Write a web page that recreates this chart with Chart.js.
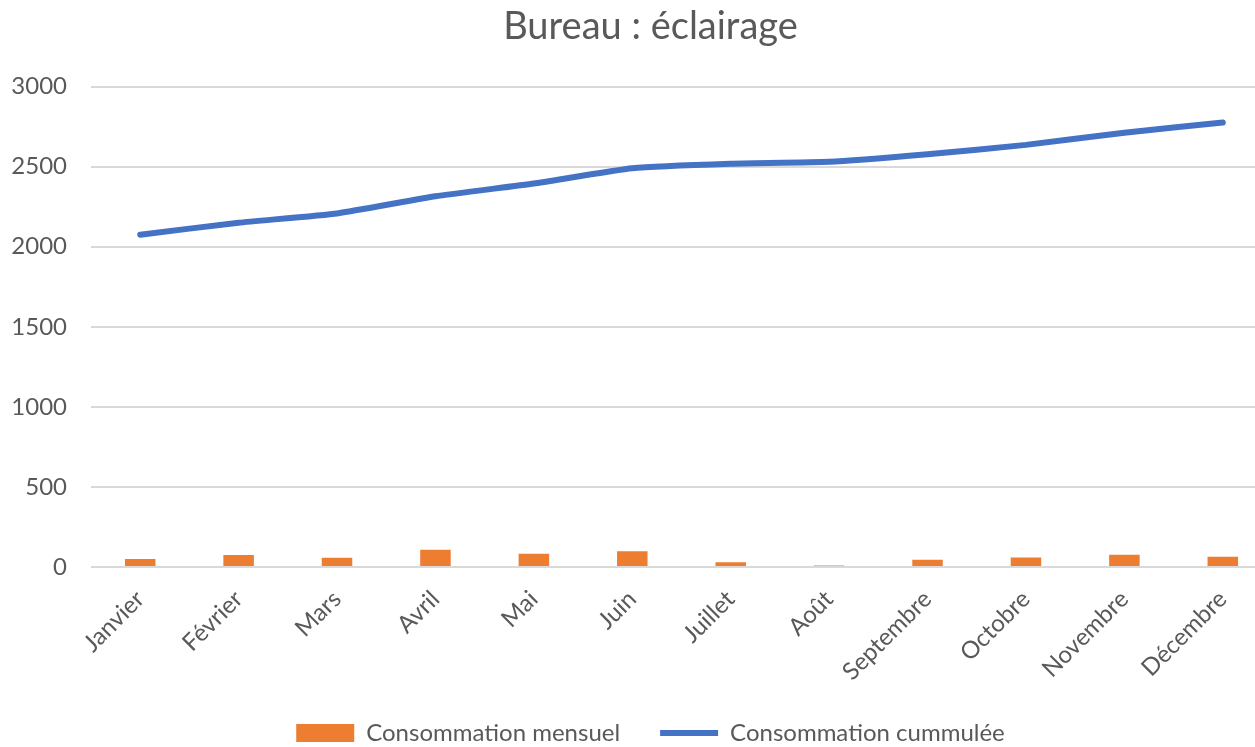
<!DOCTYPE html>
<html>
<head>
<meta charset="utf-8">
<script src="https://cdn.jsdelivr.net/npm/chart.js@4/dist/chart.umd.min.js"></script>
<style>
  html, body { margin: 0; padding: 0; background: #fff; overflow: hidden; }
  #wrap { width: 1300px; height: 747px; }
</style>
</head>
<body>
<div id="wrap"><canvas id="chart"></canvas></div>
<script>
var mois = ['Janvier', 'Février', 'Mars', 'Avril', 'Mai', 'Juin', 'Juillet', 'Août', 'Septembre', 'Octobre', 'Novembre', 'Décembre']
var mensuel = [50, 75, 58, 107, 82, 98, 30, 10, 45, 60, 76, 64]
var cumulee = [2075, 2150, 2208, 2315, 2395, 2490, 2518, 2530, 2578, 2636, 2712, 2776]
var yTicks = [0, 500, 1000, 1500, 2000, 2500, 3000]

var grey = '#595959'
var police = 'Lato, "Open Sans", sans-serif'

// la légende garde un grand écart horizontal (padding 40) sans prendre 80px de haut,
// et les étiquettes inclinées de l'axe x ne poussent pas la zone du graphique
var mise_en_page = {
    id: 'miseEnPage',
    beforeLayout: function (chart) {
        var lg = chart.legend
        if (lg && !lg._fixed) {
            var fit = lg.fit
            lg.fit = function () {
                fit.call(this)
                this.height = 66
            }
            lg._fixed = true
        }
        var x = chart.scales.x
        if (x) {
            x.getPadding = function () { return { left: 0, top: 0, right: 0, bottom: 0 } }
        }
    }
}

var ctx = document.getElementById('chart').getContext('2d')

new Chart(ctx, {
    type: 'bar',
    data: {
        labels: mois,
        datasets: [
        {
            type: 'bar',
            label: 'Consommation mensuel',
            data: mensuel,
            backgroundColor: '#ED7D31',
            barPercentage: 0.31,
            categoryPercentage: 1,
            pointStyle: 'rect',
            order: 2
        },
        {
            type: 'line',
            label: 'Consommation cummulée',
            data: cumulee,
            borderColor: '#4472C4',
            backgroundColor: '#4472C4',
            borderWidth: 6,
            borderCapStyle: 'round',
            borderJoinStyle: 'round',
            pointRadius: 0,
            pointStyle: 'line',
            tension: 0.15,
            order: 1
        }
        ]
    },
    options: {
        responsive: true,
        maintainAspectRatio: false,
        animation: false,
        layout: { padding: { left: 11, right: 10, top: 4, bottom: 0 } },
        plugins: {
            title: {
                display: true,
                text: 'Bureau : éclairage',
                color: grey,
                font: { family: police, size: 38, weight: 'normal' },
                padding: { top: 0, bottom: 37 }
            },
            legend: {
                position: 'bottom',
                labels: {
                    color: grey,
                    font: { family: police, size: 24 },
                    usePointStyle: true,
                    pointStyleWidth: 58,
                    boxHeight: 18,
                    padding: 40,
                    sort: function (a, b) { return a.datasetIndex - b.datasetIndex }
                }
            },
            tooltip: { enabled: false }
        },
        scales: {
            x: {
                grid: { display: false },
                border: { display: false },
                ticks: {
                    color: grey,
                    font: { family: police, size: 24 },
                    minRotation: 45,
                    maxRotation: 45,
                    padding: 10
                },
                afterFit: function (axis) {
                    axis.paddingLeft = 0
                    axis.paddingRight = 0
                    axis.height = 114
                }
            },
            y: {
                min: yTicks[0],
                max: yTicks[yTicks.length - 1],
                afterBuildTicks: function (axis) {
                    axis.ticks = yTicks.map(function (v) { return { value: v } })
                },
                grid: { color: '#D9D9D9', lineWidth: 2, drawTicks: false },
                border: { display: false },
                ticks: {
                    color: grey,
                    font: { family: police, size: 24 },
                    padding: 24,
                    callback: function (v) { return String(v) }
                },
                afterFit: function (axis) { axis.width = 80 }
            },
            // espace vide à droite (le graphique d'origine est coupé)
            y1: {
                position: 'right',
                grid: { display: false },
                border: { display: false },
                ticks: { display: false },
                afterFit: function (axis) { axis.width = 18 }
            }
        }
    },
    plugins: [mise_en_page]
})
</script>
</body>
</html>
